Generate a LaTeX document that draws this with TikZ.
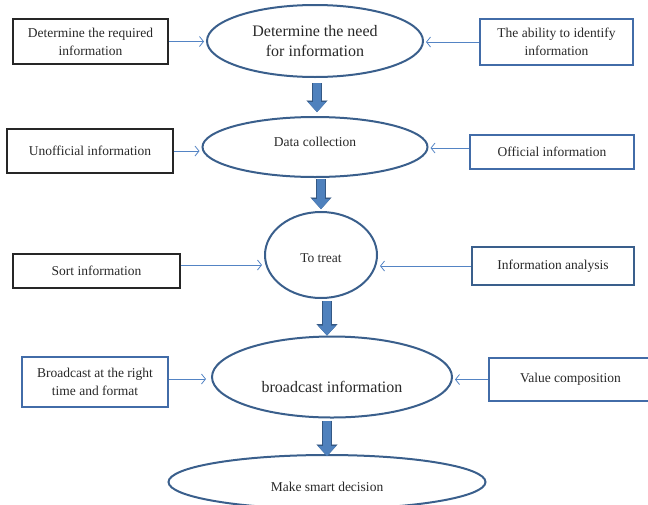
\documentclass[tikz,border=0pt]{standalone}
\usepackage{fontspec}
\setmainfont{Liberation Serif}
\usetikzlibrary{arrows.meta}
\usetikzlibrary{shapes.geometric}

\definecolor{ellline}{RGB}{58,95,140}
\definecolor{boxblue}{RGB}{66,108,168}
\definecolor{flowblue}{RGB}{84,132,196}
\definecolor{arrfill}{RGB}{79,129,189}
\definecolor{arredge}{RGB}{52,88,132}
\definecolor{txt}{RGB}{40,40,40}

\newcommand{\smalltxt}{\fontsize{13.5}{18}\selectfont}
\newcommand{\bigtxt}{\fontsize{16}{20}\selectfont}

\begin{document}
\begin{tikzpicture}[x=1pt, y=-1pt,
    stage/.style={ellipse, draw=ellline, line width=2pt, inner sep=0pt, text=txt},
    inner/.style={font=\smalltxt, text=txt},
    blackbox/.style={rectangle, draw=black!85, line width=1.4pt, inner sep=0pt, align=center, text=txt, font=\smalltxt},
    bluebox/.style={blackbox, draw=boxblue, line width=1.8pt},
    flow/.style={draw=flowblue, line width=0.8pt, -{Straight Barb[length=4pt, width=10pt]}, shorten >=2pt},
    bigarrow/.style={draw=arrfill, line width=8pt, -{Triangle[length=10pt, width=18pt, line width=0.2pt]},
      preaction={draw=arredge, line width=10pt, -{Triangle[length=11.5pt, width=21pt, line width=0.2pt]}}}]
  \useasboundingbox (0, 0) rectangle (648, 504);

  % stages
  \node[stage, minimum width=216pt, minimum height=72pt, align=center, font=\bigtxt] (need) at (315, 41) {Determine the need\\for information};
  \node[stage, minimum width=225pt, minimum height=60pt, label={[inner, yshift=5pt]center:Data collection}] (collect) at (315, 147) {};
  \node[stage, minimum width=112pt, minimum height=86pt, label={[inner, yshift=-3pt]center:To treat}] (treat) at (321, 255) {};
  \node[stage, minimum width=240pt, minimum height=81pt, label={[inner, font=\bigtxt, yshift=-10pt]center:broadcast information}] (spread) at (332, 377) {};
  \node[stage, minimum width=317pt, minimum height=54pt, label={[inner, yshift=-5pt]center:Make smart decision}] (decide) at (327, 482) {};

  % side boxes
  \node[blackbox, minimum width=155pt, minimum height=45pt] (required) at (90.5, 41.5) {Determine the required\\information};
  \node[bluebox, minimum width=153pt, minimum height=46pt] (ability) at (556.5, 42) {The ability to identify\\information};
  \node[blackbox, minimum width=166pt, minimum height=44pt] (unofficial) at (90, 151) {Unofficial information};
  \node[bluebox, minimum width=164pt, minimum height=34pt] (official) at (552, 152) {Official information};
  \node[blackbox, minimum width=167pt, minimum height=34pt] (sort) at (96.5, 271) {Sort information};
  \node[bluebox, draw=ellline, minimum width=162pt, minimum height=38pt] (analysis) at (553, 266) {Information analysis};
  \node[bluebox, minimum width=146pt, minimum height=50pt] (timing) at (95, 382) {Broadcast at the right\\time and format};
  \node[bluebox, minimum width=163pt, minimum height=43pt] (value) at (570.5, 379.5) {Value composition};

  % inputs
  \draw[flow] (required.east) -- (required.east -| need.west);
  \draw[flow] (ability.west) -- (ability.west -| need.east);
  \draw[flow] (unofficial.east) -- (unofficial.east -| collect.west);
  \draw[flow] ([yshift=4pt]official.west) -- ([yshift=4pt]official.west -| collect.east);
  \draw[flow] ([yshift=6pt]sort.east) -- ([yshift=6pt]sort.east -| treat.west);
  \draw[flow] (analysis.west) -- (analysis.west -| treat.east);
  \draw[flow, shorten >=5pt] ([yshift=3pt]timing.east) -- ([yshift=3pt]timing.east -| spread.west);
  \draw[flow] (value.west) -- (value.west -| spread.east);

  % main flow
  \draw[bigarrow, shorten <=5pt, shorten >=4pt] ([xshift=2pt]need.south) -- ([xshift=2pt]collect.north);
  \draw[bigarrow, shorten <=1pt, shorten >=2pt] (treat.north |- collect.south) -- (treat.north);
  \draw[bigarrow, shorten <=2pt] ([xshift=6pt]treat.south) -- ([xshift=6pt]treat.south |- spread.north);
  \draw[bigarrow, shorten <=2pt, shorten >=-2pt] (decide.north |- spread.south) -- (decide.north);
\end{tikzpicture}
\end{document}
